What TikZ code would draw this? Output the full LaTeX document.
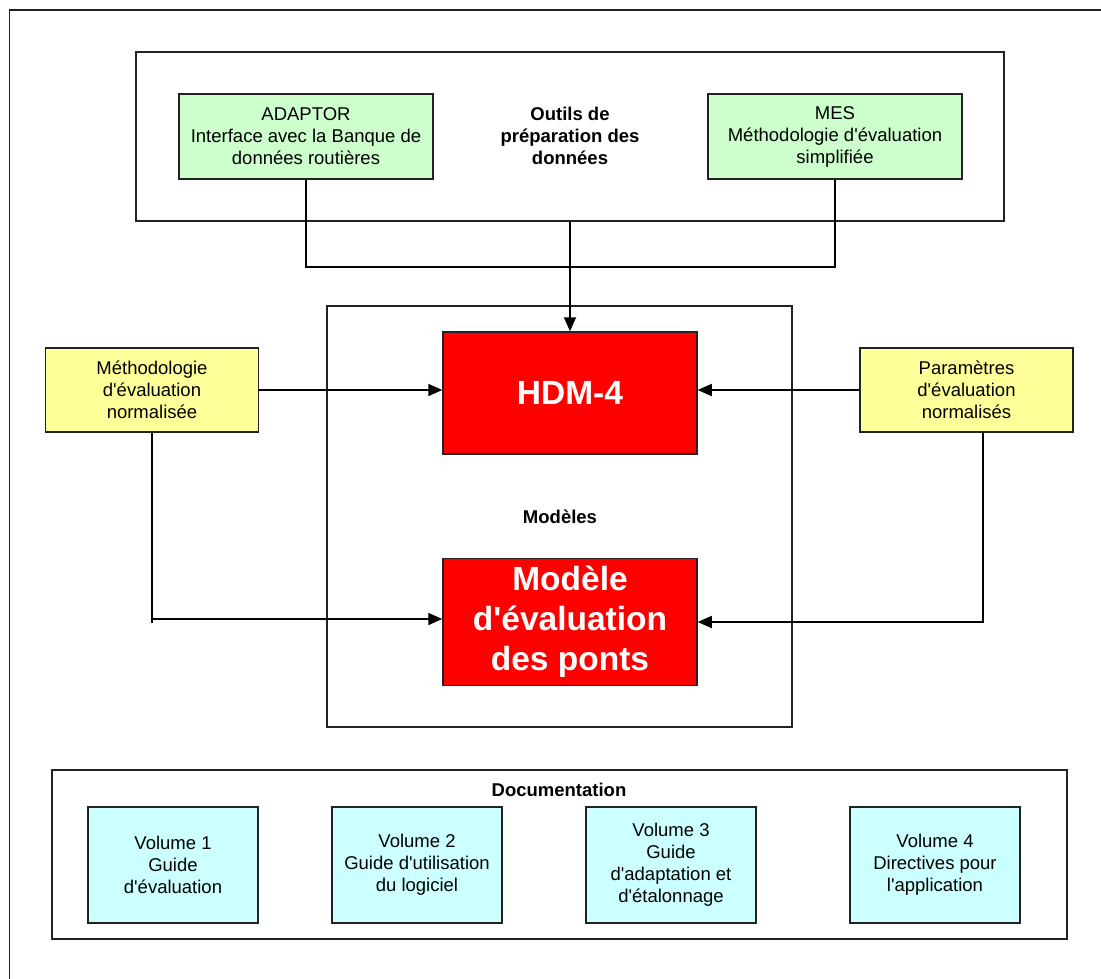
\documentclass[tikz,border=0pt]{standalone}
\usepackage{fontspec}
\setmainfont{Liberation Sans}
\newfontfamily\arial{Liberation Sans}
\usetikzlibrary{arrows.meta}
\definecolor{boxgreen}{HTML}{CCFFCC}
\definecolor{boxyellow}{HTML}{FFFF99}
\definecolor{boxcyan}{HTML}{CCFFFF}
\definecolor{boxred}{HTML}{FF0000}
\definecolor{frameline}{HTML}{222222}
\tikzset{
  container/.style={draw=frameline, line width=1.3pt, inner sep=0pt},
  smallbox/.style={draw=frameline, line width=1.5pt, inner sep=0pt, align=center,
    font=\arial\fontsize{18.5}{22}\selectfont},
  bigbox/.style={draw=frameline, line width=1.5pt, fill=boxred, inner sep=0pt, align=center,
    text=white, font=\arial\fontsize{33.5}{40}\selectfont\bfseries},
  lbl/.style={inner sep=0pt, align=center, font=\arial\fontsize{18.5}{22}\selectfont\bfseries},
  conn/.style={line width=1.8pt, draw=black},
  arr/.style={conn, -{Triangle[length=14pt, width=12pt]}},
}
\begin{document}
\begin{tikzpicture}[x=1pt, y=-1pt]
\useasboundingbox (0,0) rectangle (1101,978);
\fill[white] (0,0) rectangle (1101,978);
% outer frame (runs off the right and bottom edges)
\draw[line width=1.8pt, draw=frameline] (9.5,980) -- (9.5,10) -- (1103,10);

% top group
\node[container, minimum width=868pt, minimum height=169pt] (top) at (570,136.5) {};
\node[smallbox, fill=boxgreen, minimum width=254pt, minimum height=85pt] (adaptor) at (306,136.5)
  {ADAPTOR\\Interface avec la Banque de\\données routières};
\node[smallbox, fill=boxgreen, minimum width=254pt, minimum height=85pt] (mes) at (835,136.5)
  {MES\\Méthodologie d'évaluation\\simplifiée};
\node[lbl] (outils) at (570,136) {Outils de\\préparation des\\données};

% models group
\node[container, minimum width=465pt, minimum height=421pt] (models) at (559.5,516.5) {};
\node[bigbox, minimum width=254pt, minimum height=122pt] (hdm) at (570,393) {HDM-4};
\node[lbl] (modlbl) at (560,517) {Modèles};
\node[bigbox, minimum width=254pt, minimum height=127pt] (mep) at (570,622)
  {Modèle\\d'évaluation\\des ponts};

% side inputs
\node[smallbox, fill=boxyellow, minimum width=213pt, minimum height=84pt] (lyel) at (152,390)
  {Méthodologie\\d'évaluation\\normalisée};
\node[smallbox, fill=boxyellow, minimum width=213pt, minimum height=84pt] (ryel) at (966.5,390)
  {Paramètres\\d'évaluation\\normalisés};

% documentation group
\node[container, minimum width=1015pt, minimum height=169pt] (doc) at (559.5,854.5) {};
\node[lbl] (doclbl) at (559,790) {Documentation};
\node[smallbox, fill=boxcyan, minimum width=170pt, minimum height=116pt] (v1) at (173,865)
  {Volume 1\\Guide\\d'évaluation};
\node[smallbox, fill=boxcyan, minimum width=170pt, minimum height=116pt] (v2) at (417,865)
  {Volume 2\\Guide d'utilisation\\du logiciel};
\node[smallbox, fill=boxcyan, minimum width=170pt, minimum height=116pt] (v3) at (671,865)
  {Volume 3\\Guide\\d'adaptation et\\d'étalonnage};
\node[smallbox, fill=boxcyan, minimum width=170pt, minimum height=116pt] (v4) at (935,865)
  {Volume 4\\Directives pour\\l'application};

% connectors
\coordinate (j) at (570,267);
\draw[conn] (adaptor.south) |- (j) -| (mes.south);
\draw[arr] (top.south) -- (hdm.north);
\draw[arr] (lyel.east) -- (lyel.east -| hdm.west);
\draw[arr] (ryel.west) -- (ryel.west -| hdm.east);
\coordinate (lc) at (152,619);
\coordinate (ltick) at (152,623);
\draw[conn] (lyel.south) -- (ltick);
\draw[arr] (lc) -- (lc -| mep.west);
\coordinate (rc) at (983,432);
\draw[arr] (rc) |- (mep.east);
\end{tikzpicture}
\end{document}
